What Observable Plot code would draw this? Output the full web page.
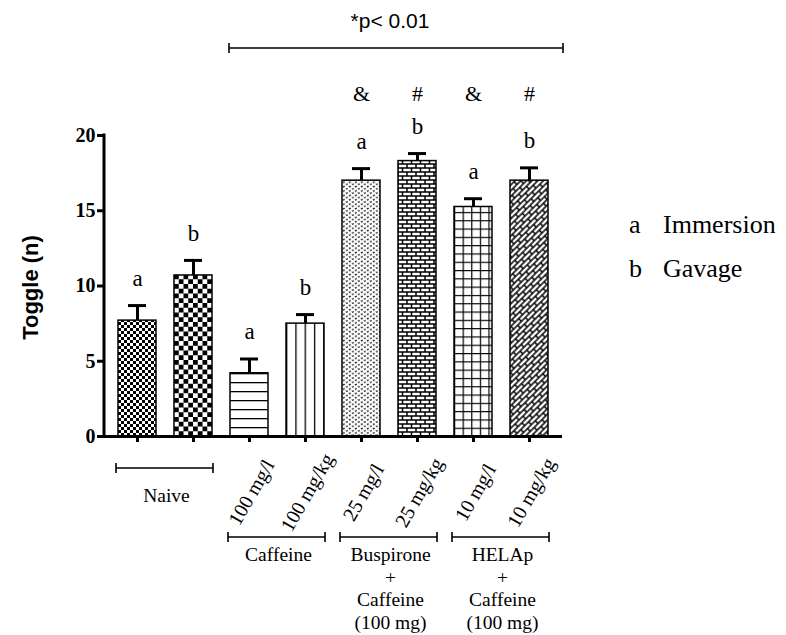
<!DOCTYPE html>
<html><head><meta charset="utf-8">
<script src="https://cdn.jsdelivr.net/npm/d3@7"></script>
<script src="https://cdn.jsdelivr.net/npm/@observablehq/plot@0.6"></script>
<style>body{margin:0;background:#fff}</style>
</head><body><div id="chart"></div>
<script>
// ---- data ----
const barKeys = ["Naive-a","Naive-b","Caf-a","Caf-b","Bus-a","Bus-b","HEL-a","HEL-b"];
const doseLabels = ["", "", "100 mg/l","100 mg/kg","25 mg/l","25 mg/kg","10 mg/l","10 mg/kg"];
const toggleMeans = [7.7, 10.7, 4.2, 7.5, 17.0, 18.3, 15.25, 17.0];
const toggleSEM = [1.0, 1.0, 0.95, 0.6, 0.8, 0.5, 0.55, 0.85];
const routeLetters = ["a","b","a","b","a","b","a","b"];
const sigMarks = ["","","","","&","#","&","#"];
const groupNames = [["Naive"],["Caffeine"],["Buspirone","+","Caffeine","(100 mg)"],["HELAp","+","Caffeine","(100 mg)"]];
const groupMembers = [[0,1],[2,3],[4,5],[6,7]];
const legendLetters = ["a","b"];
const legendNames = ["Immersion","Gavage"];
const yTicks = [0,5,10,15,20];
const pValueText = "*p< 0.01";
const pBracketFrom = 2; // bracket starts at 3rd bar, ends at axis end
const yTitle = "Toggle (n)";

const rows = barKeys.map((k,i)=>({key:k, idx:i, dose:doseLabels[i], mean:toggleMeans[i], sem:toggleSEM[i], letter:routeLetters[i], sig:sigMarks[i]}));

const serif = "'Liberation Serif','Times New Roman',Times,serif";
const sans = "'Liberation Sans',Arial,Helvetica,sans-serif";

const plot = Plot.plot({
  width: 786, height: 635,
  marginLeft: 104, marginRight: 224, marginTop: 135, marginBottom: 199,
  style: {fontFamily: serif, color: "black", background: "white", overflow: "visible"},
  x: {type: "band", domain: barKeys, paddingInner: 0.33, paddingOuter: 0.215},
  y: {domain: [0, 20]},
  color: {type: "identity"},
  marks: [
    Plot.barY(rows, {x: "key", y: "mean", fill: d => `url(#pat${d.idx})`, stroke: "black", strokeWidth: 1.5}),
    Plot.ruleX(rows, {x: "key", y1: "mean", y2: d => d.mean + d.sem, strokeWidth: 3, stroke: "black"}),
    Plot.tickY(rows, {x: "key", y: d => d.mean + d.sem, strokeWidth: 3, stroke: "black", insetLeft: 10, insetRight: 10}),
    Plot.text(rows, {x: "key", y: d => d.mean + d.sem, text: "letter", dy: -19.5, lineAnchor: "bottom", fontSize: 23, fontFamily: serif}),
    Plot.text(rows, {x: "key", text: "sig", frameAnchor: "top", dy: -35, lineAnchor: "bottom", fontSize: 22, fontFamily: serif}),
    Plot.text(rows, {x: "key", y: () => 0, text: "dose", dy: 56, dx: 2, rotate: -60, fontSize: 20, fontFamily: serif}),
    Plot.axisX({tickSize: 6, strokeWidth: 3, tickFormat: () => "", label: null}),
    Plot.axisY({ticks: yTicks, tickSize: 7, strokeWidth: 3, tickPadding: 2, fontSize: 20, fontWeight: "bold", fontFamily: serif, label: null}),
    Plot.ruleY([0], {strokeWidth: 3, stroke: "black", insetLeft: -1.5})
  ]
});

document.getElementById("chart").appendChild(plot);

// ---- patterns & annotations ----
const svg = d3.select(plot);
const xs = plot.scale("x"), ys = plot.scale("y");
const bw = xs.bandwidth;
const X = k => xs.apply(k);
const Y = v => ys.apply(v);
const y0 = Y(0), yTop = Y(20);
const xL = xs.range[0], xR = xs.range[1];

const defs = svg.insert("defs", ":first-child");
function pat(i, w, h, draw, transform) {
  const p = defs.append("pattern").attr("id", "pat" + i).attr("patternUnits", "userSpaceOnUse")
    .attr("width", w).attr("height", h).attr("x", X(barKeys[i])).attr("y", y0);
  if (transform) p.attr("patternTransform", transform);
  p.append("rect").attr("width", w).attr("height", h).attr("fill", "white");
  draw(p);
}
// 0 fine checker
pat(0, 6, 6, p => { p.append("rect").attr("width",3).attr("height",3); p.append("rect").attr("x",3).attr("y",3).attr("width",3).attr("height",3); });
// 1 coarse checker
pat(1, 9.5, 9.5, p => { p.append("rect").attr("width",4.75).attr("height",4.75); p.append("rect").attr("x",4.75).attr("y",4.75).attr("width",4.75).attr("height",4.75); });
// 2 horizontal lines
pat(2, 10, 9, p => p.append("path").attr("d","M0,0H10").attr("stroke","black").attr("stroke-width",2.6));
// 3 vertical lines
pat(3, 9.3, 10, p => p.append("path").attr("d","M0,0V10").attr("stroke","black").attr("stroke-width",2.6));
// 4 little v dots
pat(4, 6, 4.4, p => p.append("path").attr("d","M0.8,0.7L1.8,2L2.8,0.7M3.8,2.9L4.8,4.2L5.8,2.9").attr("stroke","#222").attr("stroke-width",0.9).attr("fill","none"));
// 5 bricks
pat(5, 9, 8, p => p.append("path").attr("d","M0,0H9M0,4H9M0,8H9M0,0V4M4.5,4V8M9,0V4").attr("stroke","black").attr("stroke-width",1.5).attr("fill","none"));
// 6 grid
pat(6, 8.6, 8.3, p => p.append("path").attr("d","M0,0H8.6M0,0V8.3").attr("stroke","black").attr("stroke-width",2.4).attr("fill","none"));
// 7 herringbone-ish (rotated bricks)
pat(7, 11, 8, p => p.append("path").attr("d","M0,0H11M0,4H11M0,8H11M0,0V4M5.5,4V8M11,0V4").attr("stroke","black").attr("stroke-width",1.5).attr("fill","none"), "rotate(-45)");

const ann = svg.append("g").attr("fill", "black");

// y axis line
ann.append("line").attr("x1", xL).attr("x2", xL).attr("y1", yTop - 1.5).attr("y2", y0 + 1.5)
  .attr("stroke", "black").attr("stroke-width", 3);

function bracket(x1, x2, y) {
  ann.append("path").attr("d", `M${x1},${y}H${x2}M${x1},${y-5}V${y+5}M${x2},${y-5}V${y+5}`)
    .attr("stroke", "black").attr("stroke-width", 1.6).attr("fill", "none");
}
function txt(x, y, s, family, size, anchor) {
  return ann.append("text").attr("x", x).attr("y", y).attr("text-anchor", anchor)
    .style("font-family", family).style("font-size", size + "px").text(s);
}

// top p-value bracket
const pb1 = X(barKeys[pBracketFrom]) - 1, pb2 = xR + 1;
bracket(pb1, pb2, yTop - 87);
txt((pb1 + pb2) / 2 - 6, yTop - 107, pValueText, sans, 21, "middle");

// group brackets & labels
groupMembers.forEach((m, gi) => {
  const a = X(barKeys[m[0]]) - 2, b = X(barKeys[m[m.length - 1]]) + bw + 1;
  const naive = gi === 0;
  const by = y0 + (naive ? 32 : 101);
  bracket(a, b, by);
  groupNames[gi].forEach((line, li) => {
    txt((a + b) / 2 + 2, by + (naive ? 34 : 24) + li * 22.5, line, serif, 19.5, "middle");
  });
});

// legend
legendLetters.forEach((l, i) => {
  const ly = yTop + 98 + i * 44;
  txt(xR + 67, ly, l, serif, 26, "start");
  txt(xR + 101, ly, legendNames[i], serif, 26, "start");
});

// y title
ann.append("text").attr("transform", `translate(38,${(y0 + yTop) / 2 + 2}) rotate(-90)`).attr("text-anchor", "middle")
  .style("font-family", sans).style("font-weight", "bold").style("font-size", "22px").text(yTitle);
</script>
</body></html>
